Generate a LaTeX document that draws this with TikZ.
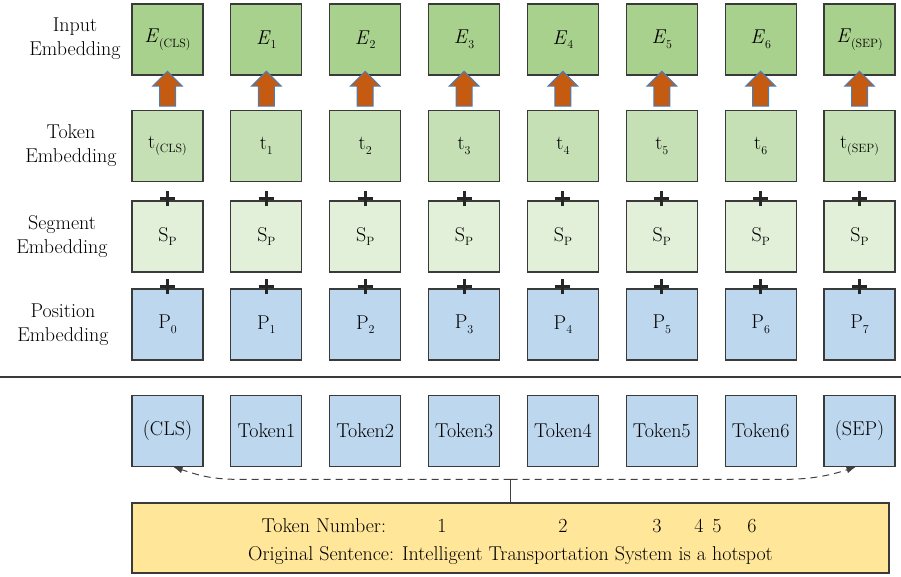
\documentclass[tikz,border=0pt]{standalone}
\usetikzlibrary{shapes.arrows, arrows.meta, positioning, calc}
\definecolor{inputgreen}{HTML}{A9D18E}
\definecolor{tokengreen}{HTML}{C5E0B4}
\definecolor{segmentgreen}{HTML}{E2F0D9}
\definecolor{posblue}{HTML}{BDD7EE}
\definecolor{sentyellow}{HTML}{FFE699}
\definecolor{arroworange}{HTML}{C55A11}
\definecolor{arrowblue}{HTML}{4A7EBB}
\definecolor{boxline}{HTML}{3A3A3A}
\definecolor{dashgray}{HTML}{404040}
\newcommand{\lowsub}[1]{\raisebox{-4.5pt}{\fontsize{12}{12}\selectfont #1}}

\begin{document}
\begin{tikzpicture}[
    x=1pt, y=1pt,
    font=\fontsize{20}{24}\selectfont,
    embox/.style={rectangle, draw=boxline, line width=1.2pt, minimum width=71pt, minimum height=71pt, inner sep=0pt, align=center},
    rowlabel/.style={align=center},
    plussign/.style={line width=3pt, draw=black!85},
    blockarrow/.style={single arrow, rotate=90, draw=arrowblue, fill=arroworange, line width=1pt, inner sep=0pt, inner ysep=7.5pt, minimum height=35pt, single arrow head extend=7pt},
    dashflow/.style={-{Latex[length=9pt,width=7pt]}, dash pattern=on 7pt off 5pt, line width=1pt, color=dashgray}
]
    \useasboundingbox (0,0) rectangle (901,576);

    % row labels
    \node[rowlabel] (lin) at (75,537) {Input\\Embedding};
    \node[rowlabel] (ltok) at (71,430) {Token\\Embedding};
    \node[rowlabel] (lseg) at (62,339.5) {Segment\\Embedding};
    \node[rowlabel] (lpos) at (63,251.5) {Position\\Embedding};

    % embedding columns
    \foreach \i/\lab/\word in {0/{(CLS)}/{(CLS)}, 1/1/Token1, 2/2/Token2, 3/3/Token3, 4/4/Token4, 5/5/Token5, 6/6/Token6, 7/{(SEP)}/{(SEP)}} {
        \pgfmathsetmacro{\x}{167.5+98.86*\i}
        \node[embox, fill=inputgreen] (e\i) at (\x,536.5) {\textit{E}\lowsub{\lab}};
        \node[embox, fill=tokengreen] (t\i) at (\x,430) {t\lowsub{\lab}};
        \node[embox, fill=segmentgreen] (s\i) at (\x,339.5) {S\lowsub{P}};
        \node[embox, fill=posblue] (p\i) at (\x,251.5) {P\lowsub{\i}};
        \node[embox, fill=posblue] (w\i) at (\x,145) {\word};
        \path (t\i.north) -- (e\i.south) node[midway, blockarrow] {};
        \draw[plussign] ($(s\i.north)+(0,1.5)$) +(-7.5,0) -- +(7.5,0) +(0,-7.5) -- +(0,7.5);
        \draw[plussign] ($(p\i.north)+(0,1.5)$) +(-7.5,0) -- +(7.5,0) +(0,-7.5) -- +(0,7.5);
    }

    \draw[line width=1.5pt, boxline] (0,199) -- (901,199);

    % original sentence
    \node[rectangle, draw=boxline, line width=1.2pt, fill=sentyellow, minimum width=757pt, minimum height=70pt] (sent) at (510.5,38) {};
    \node[anchor=base west] (tnum) at (258,44) {Token Number:};
    \node[anchor=base] (n1) at (442,44) {1};
    \node[anchor=base] (n2) at (563,44) {2};
    \node[anchor=base] (n3) at (657,44) {3};
    \node[anchor=base] (n4) at (699,44) {4};
    \node[anchor=base] (n5) at (717,44) {5};
    \node[anchor=base] (n6) at (752,44) {6};
    \node[anchor=base] (orig) at (510.5,16) {Original Sentence: Intelligent Transportation System is a hotspot};

    \coordinate (split) at ($(sent.north)+(0,23)$);
    \draw[line width=1pt, dashgray] (sent.north) -- (split);
    \draw[dashflow] (split) -- ++(-270,0) .. controls +(-30,0) and +(25,-8) .. ($(w0.south)+(6,0)$);
    \draw[dashflow] (split) -- ++(272,0) .. controls +(30,0) and +(-25,-8) .. ($(w7.south)+(-4,0)$);
\end{tikzpicture}
\end{document}
